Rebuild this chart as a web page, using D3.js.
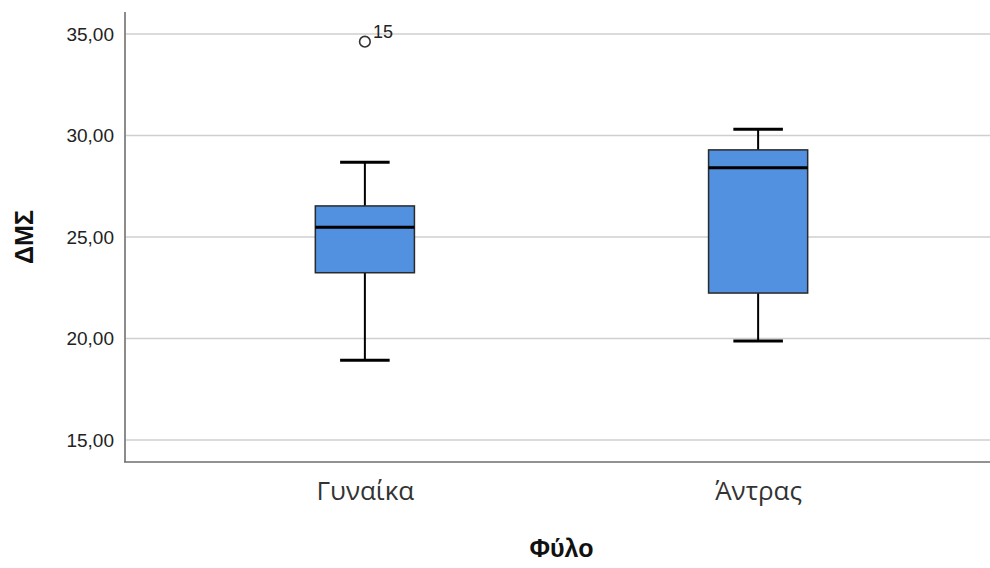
<!DOCTYPE html>
<html>
<head>
<meta charset="utf-8">
<script src="https://cdn.jsdelivr.net/npm/d3@7"></script>
<style>
  html, body { margin: 0; padding: 0; background: #fff; }
  svg { display: block; }
</style>
</head>
<body>
<svg id="chart" width="990" height="568"></svg>
<script>
// Five-number summaries of BMI (ΔΜΣ) by sex (Φύλο)
const categories = ["Γυναίκα", "Άντρας"];
const whiskerLow  = [18.93, 19.88];
const q1          = [23.24, 22.24];
const medians     = [25.48, 28.41];
const q3          = [26.53, 29.29];
const whiskerHigh = [28.68, 30.31];
// Outliers: [category index, value, case label]
const outlierCat   = [0];
const outlierValue = [34.62];
const outlierLabel = ["15"];
const yTicks = [15, 20, 25, 30, 35];
const yTitle = "ΔΜΣ";
const xTitle = "Φύλο";

const svg = d3.select("#chart");
const plotLeft = 125, plotRight = 998, plotTop = 12, plotBottom = 462;

const y = d3.scaleLinear().domain([13.92, 36.08]).range([plotBottom, plotTop]);
const x = d3.scalePoint().domain(categories).range([plotLeft, plotRight]).padding(0.61);
const step = x.step();
const boxW = step * 0.252;
const capW = boxW * 0.5;

const fmt = v => d3.format(".2f")(v).replace(".", ",");

// horizontal gridlines
svg.append("g")
  .selectAll("line")
  .data(yTicks)
  .join("line")
  .attr("x1", plotLeft).attr("x2", 990)
  .attr("y1", d => y(d)).attr("y2", d => y(d))
  .attr("stroke", "#cfcfcf")
  .attr("stroke-width", 1.6);

// y axis
const yAxis = d3.axisLeft(y).tickValues(yTicks).tickFormat(fmt).tickSize(0).tickPadding(11);
const gy = svg.append("g").attr("transform", `translate(${plotLeft},0)`).call(yAxis);
gy.select(".domain").remove();
gy.selectAll("text")
  .attr("font-family", "'Liberation Sans', Arial, sans-serif")
  .attr("font-size", 19)
  .attr("fill", "#222");

// x axis
const xAxis = d3.axisBottom(x).tickSize(0).tickPadding(20);
const gx = svg.append("g").attr("transform", `translate(0,${plotBottom})`).call(xAxis);
gx.select(".domain").remove();
gx.selectAll("text")
  .attr("font-family", "'Open Sans', sans-serif")
  .attr("font-size", 26)
  .attr("fill", "#333");

// axis lines
svg.append("line")
  .attr("x1", plotLeft).attr("x2", plotLeft)
  .attr("y1", plotTop).attr("y2", plotBottom)
  .attr("stroke", "#8c8c8c").attr("stroke-width", 2);
svg.append("line")
  .attr("x1", plotLeft - 1).attr("x2", 990)
  .attr("y1", plotBottom).attr("y2", plotBottom)
  .attr("stroke", "#6e6e6e").attr("stroke-width", 1.6);

// boxplots
const data = categories.map((c, i) => ({
  c, lo: whiskerLow[i], q1: q1[i], med: medians[i], q3: q3[i], hi: whiskerHigh[i]
}));

const g = svg.append("g").selectAll("g").data(data).join("g");

// whisker stems
g.append("line")
  .attr("x1", d => x(d.c)).attr("x2", d => x(d.c))
  .attr("y1", d => y(d.hi)).attr("y2", d => y(d.q3))
  .attr("stroke", "#000").attr("stroke-width", 2);
g.append("line")
  .attr("x1", d => x(d.c)).attr("x2", d => x(d.c))
  .attr("y1", d => y(d.q1)).attr("y2", d => y(d.lo))
  .attr("stroke", "#000").attr("stroke-width", 2);

// whisker caps
g.append("line")
  .attr("x1", d => x(d.c) - capW / 2).attr("x2", d => x(d.c) + capW / 2)
  .attr("y1", d => y(d.hi)).attr("y2", d => y(d.hi))
  .attr("stroke", "#000").attr("stroke-width", 3);
g.append("line")
  .attr("x1", d => x(d.c) - capW / 2).attr("x2", d => x(d.c) + capW / 2)
  .attr("y1", d => y(d.lo)).attr("y2", d => y(d.lo))
  .attr("stroke", "#000").attr("stroke-width", 3);

// boxes
g.append("rect")
  .attr("x", d => x(d.c) - boxW / 2)
  .attr("width", boxW)
  .attr("y", d => y(d.q3))
  .attr("height", d => y(d.q1) - y(d.q3))
  .attr("fill", "#5290e0")
  .attr("stroke", "#2a2a2a")
  .attr("stroke-width", 1.5);

// medians
g.append("line")
  .attr("x1", d => x(d.c) - boxW / 2).attr("x2", d => x(d.c) + boxW / 2)
  .attr("y1", d => y(d.med)).attr("y2", d => y(d.med))
  .attr("stroke", "#000").attr("stroke-width", 3.2);

// outliers
const outliers = outlierValue.map((v, i) => ({ c: categories[outlierCat[i]], v, label: outlierLabel[i] }));
const og = svg.append("g").selectAll("g").data(outliers).join("g");
og.append("circle")
  .attr("cx", d => x(d.c)).attr("cy", d => y(d.v))
  .attr("r", 5.3)
  .attr("fill", "none")
  .attr("stroke", "#333")
  .attr("stroke-width", 1.6);
og.append("text")
  .attr("x", d => x(d.c) + 8).attr("y", d => y(d.v) - 3.5)
  .attr("font-family", "'Liberation Sans', Arial, sans-serif")
  .attr("font-size", 18)
  .attr("fill", "#222")
  .text(d => d.label);

// axis titles
svg.append("text")
  .attr("transform", `translate(33,${(plotTop + plotBottom) / 2}) rotate(-90)`)
  .attr("text-anchor", "middle")
  .attr("font-family", "'Liberation Sans', Arial, sans-serif")
  .attr("font-weight", "bold")
  .attr("font-size", 25)
  .attr("fill", "#111")
  .text(yTitle);
svg.append("text")
  .attr("x", (plotLeft + plotRight) / 2)
  .attr("y", 557)
  .attr("text-anchor", "middle")
  .attr("font-family", "'Liberation Sans', Arial, sans-serif")
  .attr("font-weight", "bold")
  .attr("font-size", 25)
  .attr("fill", "#111")
  .text(xTitle);
</script>
</body>
</html>
